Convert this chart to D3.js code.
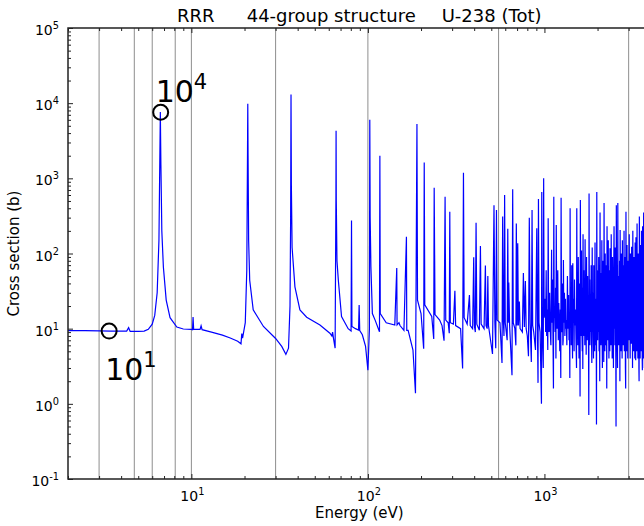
<!DOCTYPE html>
<html>
<head>
<meta charset="utf-8">
<script src="https://cdn.jsdelivr.net/npm/d3@7"></script>
<style>
body { margin: 0; background: #fff; }
svg { display: block; font-family: "DejaVu Sans", sans-serif; }
</style>
</head>
<body>
<svg id="chart" width="644" height="526"></svg>
<script>
// 44-group boundaries that fall inside the plotted range (eV)
var groupBounds = [3.0, 4.75, 6.0, 8.1, 10, 30, 100, 550, 3000];

// total cross section (energy in eV, sigma in barns)
var energyEV = [
  2.0, 2.5, 3.0, 3.5, 4.0, 4.3, 4.41, 4.5, 5.0, 5.4, 5.7, 6.0, 6.2, 6.4, 6.55, 6.62, 6.67, 6.72, 6.8, 6.94,
  7.2, 7.57, 8.27, 9.0, 10.0, 10.15, 10.22, 10.3, 11.2, 11.35, 11.5, 13, 15, 16.6, 18.3, 19.1, 19.3, 19.5, 20.2, 20.6,
  20.8, 20.87, 20.95, 21.1, 21.4, 22.4, 25.6, 30, 32.5, 34.3, 35.5, 36.2, 36.5, 36.68, 36.85, 37.2, 38.6, 41.2, 45, 53.5,
  60.9, 62.5, 63.1, 63.8, 65.2, 65.9, 66.03, 66.2, 66.8, 68, 70.9, 77.3, 80.3, 80.75, 81.2, 85, 88.5, 89.2, 89.9, 93,
  97, 100, 102.0, 102.5, 103, 104, 106, 110, 116.3, 116.9, 117.5, 127, 142, 145.7, 146.3, 150, 152, 160, 165.3, 166,
  169, 180, 186, 189.6, 191, 200, 207, 208.5, 210, 230, 236, 237.4, 240, 255, 263, 270, 273.7, 276, 285, 289,
  291, 293, 305, 311, 314, 335, 344, 347.8, 351, 365, 376, 380, 392, 397.6, 401, 406, 410, 414, 428, 434,
  438, 455, 463, 467, 474, 478, 482, 508, 518, 524, 530, 535, 540, 560, 575, 580, 585, 590, 595, 600,
  615, 620, 624, 628, 635, 655, 661, 666, 680, 689, 693, 700, 706, 712, 721, 728, 750, 760, 770, 780,
  788, 800, 812, 821, 830, 843, 851, 858, 870, 890, 905, 912, 920, 925, 932, 945, 962, 966, 972, 985,
  990, 996, 1010, 1016, 1023, 1030, 1036, 1045, 1050, 1056, 1062, 1070, 1078, 1088, 1098, 1104, 1110, 1118, 1125, 1130,
  1136, 1142, 1150, 1156, 1162, 1167, 1174, 1180, 1190, 1198, 1206, 1214, 1222, 1230, 1238, 1243, 1250, 1258, 1266, 1272,
  1277, 1281, 1288, 1298, 1306, 1316, 1321, 1330, 1340, 1350, 1358, 1370, 1378, 1386, 1393, 1398, 1405, 1412, 1419, 1428,
  1436, 1443, 1448, 1455, 1465, 1473, 1480, 1490, 1500, 1510, 1520, 1525, 1532, 1540, 1546, 1555, 1562, 1570, 1578, 1585,
  1592, 1598, 1605, 1612, 1622, 1630, 1638, 1645, 1650, 1655, 1662, 1670, 1678, 1688, 1694, 1700, 1708, 1716, 1724, 1732,
  1740, 1748, 1756, 1764, 1772, 1778, 1784, 1790, 1797, 1805, 1812, 1820, 1830, 1840, 1848, 1856, 1865, 1872, 1880, 1890,
  1897, 1903, 1910, 1918, 1926, 1935, 1942, 1950, 1958, 1965, 1972, 1980, 1988, 1995, 2002, 2010, 2020, 2030, 2040, 2048,
  2058, 2066, 2074, 2082, 2090, 2098, 2106, 2115, 2122, 2130, 2140, 2150, 2160, 2168, 2177, 2185, 2192, 2200, 2210, 2218,
  2226, 2235, 2245, 2255, 2263, 2272, 2280, 2290, 2300, 2310, 2320, 2330, 2340, 2346, 2353, 2362, 2372, 2380, 2390, 2400,
  2410, 2420, 2430, 2440, 2450, 2460, 2470, 2480, 2490, 2500, 2510, 2520, 2530, 2538, 2545, 2555, 2565, 2575, 2585, 2595,
  2605, 2615, 2625, 2635, 2645, 2655, 2665, 2676, 2685, 2695, 2705, 2715, 2725, 2735, 2745, 2755, 2765, 2775, 2785, 2795,
  2805, 2815, 2825, 2835, 2845, 2855, 2865, 2876, 2886, 2897, 2907, 2917, 2927, 2937, 2947, 2957, 2967, 2977, 2990, 3000,
  3012, 3024, 3036, 3048, 3060, 3072, 3084, 3096, 3108, 3120, 3132, 3144, 3156, 3168, 3180, 3192, 3204, 3216, 3228, 3240,
  3252, 3264, 3276, 3290, 3300, 3312, 3324, 3336, 3348, 3360, 3372, 3384, 3396, 3408, 3420, 3430, 3438, 3450, 3462, 3474,
  3486, 3498, 3510, 3522, 3534, 3546, 3558, 3570, 3580, 3588, 3600, 3612, 3624, 3636, 3648, 3660, 3672, 3684, 3696, 3708,
  3720, 3732, 3744, 3756, 3768, 3780, 3792, 3804, 3816, 3828, 3840, 3852, 3864, 3876, 3888, 3900, 3912, 3924, 3936, 3948,
  3960, 3972, 3984, 3996, 4010
];
var sigmaB = [
  9.4, 9.4, 9.35, 9.3, 9.3, 9.3, 10.3, 9.2, 9.2, 9.3, 9.8, 11.5, 15, 30, 150, 1500, 7600, 1500, 200, 66,
  24, 14, 10.5, 9.9, 9.8, 9.7, 14.3, 9.8, 9.8, 10.9, 9.7, 9.0, 8.2, 7.5, 6.8, 6.3, 8.6, 7.5, 12, 60,
  2500, 9800, 2000, 150, 44, 17.8, 10.7, 7.4, 5.8, 4.55, 5.5, 20, 300, 13000, 800, 120, 36, 17.8, 14.2, 11.2,
  8.7, 8.0, 9.0, 7.5, 5.5, 600, 4300, 500, 80, 44, 14.5, 10, 9.3, 274, 10.7, 10, 9.6, 20.7, 9.4, 8.3,
  5.8, 2.8, 10, 6000, 300, 66, 15.9, 12.9, 9.1, 2000, 15.9, 12, 11.2, 64, 11.2, 12, 11, 9.5, 167, 9.5,
  9.5, 5.2, 1.38, 5300, 24, 15.9, 5.4, 1630, 20.7, 14.5, 7.3, 750, 15.4, 13, 11, 6.9, 570, 13, 12, 8.7,
  360, 12, 11.5, 32, 11, 10, 2.95, 1190, 14, 11.5, 28, 11, 10, 89, 11, 9, 257, 11.5, 9.5, 126,
  11.5, 10, 69, 11, 10, 50, 11, 4.6, 440, 12, 5.5, 380, 13, 12, 3.5, 310, 13, 8, 600, 12,
  7, 213, 12, 41, 11, 2.4, 716, 12, 10, 6, 250, 11, 137, 11, 23, 10, 9, 55, 10.5, 43,
  10, 8, 4.3, 300, 12, 3.6, 380, 11, 9, 5.2, 217, 12, 1.9, 530, 12, 9, 1.0, 660, 10, 3,
  1000, 14, 25, 9, 60, 8, 18, 5.2, 295, 15, 9, 30, 10, 6, 112, 12, 45, 8, 1.6, 570,
  14, 20, 9, 35, 4, 240, 13, 10, 60, 7, 22, 11, 5, 18, 2.2, 550, 14, 9, 40, 6,
  7, 82, 12, 30, 8, 25, 10, 13, 6, 50, 10, 28, 7, 15, 2.2, 400, 12, 35, 6, 70,
  9, 4, 74, 12, 25, 5, 45, 11, 18, 7, 3, 400, 13, 30, 6, 90, 10, 4, 40, 12,
  1.25, 515, 14, 8, 110, 10, 5, 35, 2.9, 180, 12, 60, 8, 25, 6, 155, 11, 40, 4.5, 90,
  12, 7, 50, 10, 28, 5, 0.71, 630, 14, 45, 6, 20, 9, 70, 8, 3.5, 120, 12, 30, 7,
  4, 70, 13, 40, 5, 140, 11, 25, 6, 15, 0.53, 660, 13, 60, 7, 30, 9, 90, 5, 40,
  2.0, 350, 12, 55, 6, 25, 10, 150, 8, 3, 80, 12, 30, 3.6, 470, 13, 50, 5, 100, 9,
  20, 6, 70, 1.6, 230, 12, 45, 7, 150, 10, 4, 60, 11, 5, 117, 13, 30, 6, 180, 9,
  40, 4, 90, 12, 25, 3, 60, 230, 10, 35, 6, 120, 11, 4, 0.5, 440, 12, 30, 7, 3,
  470, 10, 50, 6, 25, 9, 80, 2.0, 205, 12, 40, 5, 100, 10, 30, 4, 150, 11, 25, 6,
  70, 9, 200, 5, 45, 10, 90, 3, 1.6, 360, 12, 60, 5, 130, 9, 35, 4, 80, 10, 60,
  7, 180, 11, 40, 4, 100, 12, 30, 6.3, 123, 10, 50, 3, 200, 12, 40, 5, 90, 11, 25,
  4, 140, 10, 3.8, 165, 12, 60, 5, 250, 9, 35, 4, 100, 12, 45, 3, 2.0, 310, 11, 50,
  4, 130, 10, 30, 5, 200, 12, 40, 4, 2.8, 230, 10, 60, 4, 350, 11, 30, 3, 150, 12,
  45, 5, 280, 10, 30, 2, 120, 12, 50, 4, 400, 10, 25, 3, 180, 12, 60, 5, 250, 11,
  30, 4, 130, 12, 40
];

var xTickExp = [1, 2, 3];
var yTickExp = [-1, 0, 1, 2, 3, 4, 5];
var markE = [3.42, 6.7];
var markSigma = [9.3, 7570];
var markExp = ["1", "4"];

var svg = d3.select("#chart"),
    margin = {top: 28, left: 68},
    plotW = 582.7,
    plotH = 451;

svg.append("rect").attr("width", 644).attr("height", 526).attr("fill", "#fff");

var x = d3.scaleLog().domain([2, 4000]).range([margin.left, margin.left + plotW]);
var y = d3.scaleLog().domain([0.1, 1e5]).range([margin.top + plotH, margin.top]);

svg.append("clipPath").attr("id", "plotclip")
  .append("rect")
    .attr("x", margin.left).attr("y", margin.top)
    .attr("width", plotW).attr("height", plotH);

// group boundaries
svg.append("g").selectAll("line")
    .data(groupBounds)
    .enter().append("line")
    .attr("x1", function(d) { return x(d); })
    .attr("x2", function(d) { return x(d); })
    .attr("y1", margin.top)
    .attr("y2", margin.top + plotH)
    .attr("stroke", "#8e8e8e")
    .attr("stroke-width", 1);

// cross section curve
var pts = energyEV.map(function(e, i) { return [e, sigmaB[i]]; });
var line = d3.line()
    .x(function(d) { return x(d[0]); })
    .y(function(d) { return y(d[1]); });

svg.append("path")
    .datum(pts)
    .attr("clip-path", "url(#plotclip)")
    .attr("fill", "none")
    .attr("stroke", "#0000ff")
    .attr("stroke-width", 1.2)
    .attr("stroke-linejoin", "miter")
    .attr("d", line);

// ticks (inward, classic style)
var xMajor = xTickExp.map(function(e) { return Math.pow(10, e); });
var xMinor = [];
[0, 1, 2, 3].forEach(function(e) {
  for (var m = 2; m <= 9; m++) {
    var v = m * Math.pow(10, e);
    if (v >= 2 && v <= 4000) xMinor.push(v);
  }
});
var yMajor = yTickExp.map(function(e) { return Math.pow(10, e); });
var yMinor = [];
[-1, 0, 1, 2, 3, 4].forEach(function(e) {
  for (var m = 2; m <= 9; m++) yMinor.push(m * Math.pow(10, e));
});

function addAxis(axis, tx, ty) {
  var g = svg.append("g").attr("transform", "translate(" + tx + "," + ty + ")").call(axis);
  g.select(".domain").remove();
  g.selectAll("line").attr("stroke", "#222").attr("stroke-width", 1);
  return g;
}
var bottom = margin.top + plotH;
addAxis(d3.axisBottom(x).tickValues(xMajor).tickSizeInner(-5).tickSizeOuter(0).tickFormat(""), 0, bottom);
addAxis(d3.axisBottom(x).tickValues(xMinor).tickSizeInner(-3).tickSizeOuter(0).tickFormat(""), 0, bottom);
addAxis(d3.axisTop(x).tickValues(xMajor).tickSizeInner(-5).tickSizeOuter(0).tickFormat(""), 0, margin.top);
addAxis(d3.axisTop(x).tickValues(xMinor).tickSizeInner(-3).tickSizeOuter(0).tickFormat(""), 0, margin.top);
addAxis(d3.axisLeft(y).tickValues(yMajor).tickSizeInner(-5).tickSizeOuter(0).tickFormat(""), margin.left, 0);
addAxis(d3.axisLeft(y).tickValues(yMinor).tickSizeInner(-3).tickSizeOuter(0).tickFormat(""), margin.left, 0);

// frame
svg.append("rect")
    .attr("x", margin.left).attr("y", margin.top)
    .attr("width", plotW).attr("height", plotH)
    .attr("fill", "none")
    .attr("stroke", "#222")
    .attr("stroke-width", 1.5);

// power-of-ten labels
function powLabel(sel, exp, size) {
  sel.append("tspan").text("10");
  sel.append("tspan")
    .attr("dy", -0.42 * size)
    .attr("font-size", size * 0.7)
    .text(exp);
}

xTickExp.forEach(function(e) {
  var t = svg.append("text")
    .attr("x", x(Math.pow(10, e)) + 1)
    .attr("y", bottom + 22)
    .attr("text-anchor", "middle")
    .attr("font-size", 14)
    .attr("fill", "#000");
  powLabel(t, String(e), 14);
});

yTickExp.forEach(function(e) {
  var t = svg.append("text")
    .attr("x", 59)
    .attr("y", y(Math.pow(10, e)) + 7)
    .attr("text-anchor", "end")
    .attr("font-size", 14)
    .attr("fill", "#000");
  powLabel(t, String(e), 14);
});

// axis titles
svg.append("text")
    .attr("x", margin.left + plotW / 2)
    .attr("y", 518)
    .attr("text-anchor", "middle")
    .attr("font-size", 15)
    .text("Energy (eV)");

svg.append("text")
    .attr("transform", "translate(19," + (margin.top + plotH / 2) + ") rotate(-90)")
    .attr("text-anchor", "middle")
    .attr("font-size", 15)
    .text("Cross section (b)");

// title
svg.append("text").attr("x", 177).attr("y", 21.7).attr("font-size", 18).text("RRR");
svg.append("text").attr("x", 246.7).attr("y", 21.7).attr("font-size", 18).text("44-group structure");
svg.append("text").attr("x", 441.7).attr("y", 21.7).attr("font-size", 18).text("U-238 (Tot)");

// marked points
var labelOffset = [[-4, 49], [-5, -10.6]];
markE.forEach(function(e, i) {
  svg.append("circle")
    .attr("cx", x(e))
    .attr("cy", y(markSigma[i]))
    .attr("r", 7.5)
    .attr("fill", "none")
    .attr("stroke", "#000")
    .attr("stroke-width", 2);
  var t = svg.append("text")
    .attr("x", x(e) + labelOffset[i][0])
    .attr("y", y(markSigma[i]) + labelOffset[i][1])
    .attr("font-size", 30)
    .attr("fill", "#000");
  powLabel(t, markExp[i], 30);
});
</script>
</body>
</html>
